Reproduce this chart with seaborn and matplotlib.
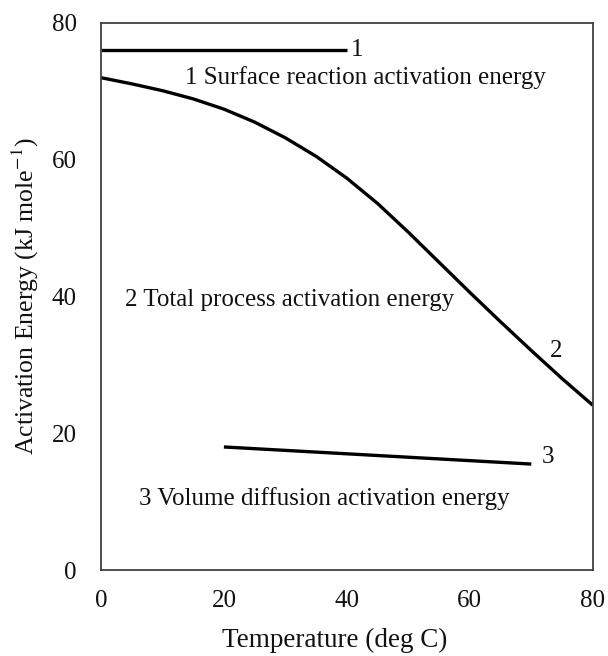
import matplotlib
matplotlib.use("Agg")
import matplotlib.pyplot as plt
import seaborn as sns
import pandas as pd

# Data
temp_total = [0, 5, 10, 15, 20, 25, 30, 35, 40, 45, 50, 55, 60, 65, 70, 75, 80]
energy_total = [72.0, 71.1, 70.1, 68.9, 67.4, 65.5, 63.2, 60.5, 57.3, 53.6, 49.4, 45.0, 40.6, 36.3, 32.1, 28.0, 24.1]

temp_surface = [0, 40]
energy_surface = [76.0, 76.0]

temp_volume = [20, 70]
energy_volume = [18.0, 15.5]

x_ticks = [0, 20, 40, 60, 80]
y_ticks = [0, 20, 40, 60, 80]

sns.set_theme(style="white")
plt.rcParams['font.family'] = ['Liberation Serif', 'DejaVu Serif']
plt.rcParams['mathtext.fontset'] = 'stix'

fig = plt.figure(figsize=(6.08, 6.56), dpi=100)
ax = fig.add_axes([0.166, 0.131, 0.809, 0.834])

df1 = pd.DataFrame({"T": temp_surface, "E": energy_surface})
df2 = pd.DataFrame({"T": temp_total, "E": energy_total})
df3 = pd.DataFrame({"T": temp_volume, "E": energy_volume})

for d in (df1, df2, df3):
    sns.lineplot(data=d, x="T", y="E", ax=ax, color="black", linewidth=2.4, sort=True,
                 solid_joinstyle="round", solid_capstyle="butt")

fs = 18
tc = "#111111"
ax.text(40.6, 76.0, "1", fontsize=fs, va="center", ha="left", color=tc)
ax.text(43.0, 72.0, "1 Surface reaction activation energy", fontsize=fs, ha="center", va="center", color=tc)
ax.text(30.7, 39.5, "2 Total process activation energy", fontsize=fs, ha="center", va="center", color=tc)
ax.text(74.0, 32.0, "2", fontsize=fs, ha="center", va="center", color=tc)
ax.text(71.7, 16.5, "3", fontsize=fs, ha="left", va="center", color=tc)
ax.text(36.4, 10.5, "3 Volume diffusion activation energy", fontsize=fs, ha="center", va="center", color=tc)

ax.set_xlim(0, 80)
ax.set_ylim(0, 80)
ax.set_xticks(x_ticks)
ax.set_yticks(y_ticks)
ax.tick_params(axis="both", length=0, labelsize=fs, labelcolor=tc)
ax.tick_params(axis="x", pad=14)
ax.tick_params(axis="y", pad=17.5)
ax.set_xlabel("Temperature (deg C)", fontsize=19.5, color=tc, labelpad=12)
ax.xaxis.set_label_coords(0.476, -0.105)
ax.set_ylabel("Activation Energy (kJ mole$^{-1}$)", fontsize=18.5, color=tc, labelpad=8)

for sp in ax.spines.values():
    sp.set_visible(True)
    sp.set_color("#404040")
    sp.set_linewidth(1.3)

fig.savefig("out.png", dpi=100)
